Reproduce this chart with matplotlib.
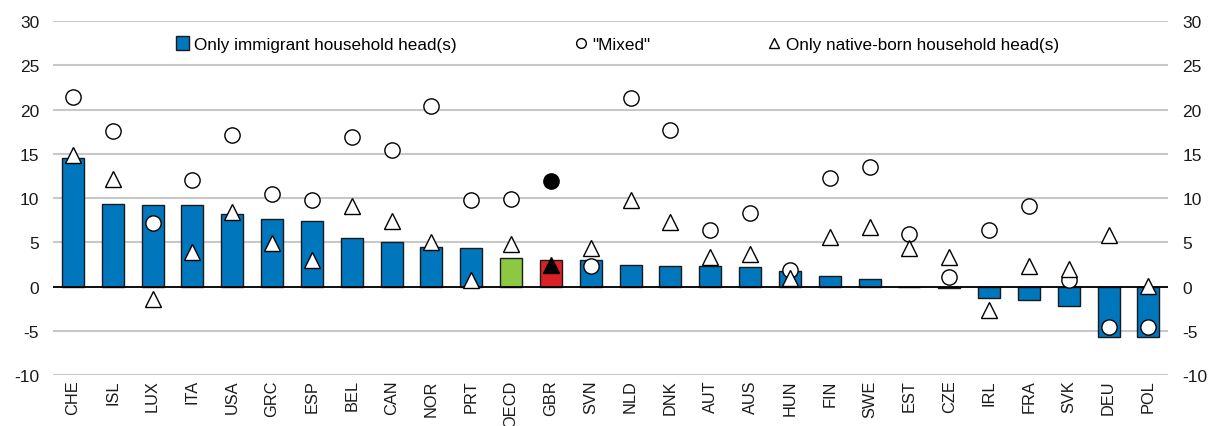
import matplotlib
matplotlib.use("Agg")
import matplotlib.pyplot as plt
import numpy as np
from matplotlib.lines import Line2D
from matplotlib.patches import Patch

plt.rcParams['font.family'] = ['Liberation Sans', 'DejaVu Sans']
plt.rcParams['axes.unicode_minus'] = False

countries = ["CHE", "ISL", "LUX", "ITA", "USA", "GRC", "ESP", "BEL", "CAN", "NOR",
             "PRT", "OECD", "GBR", "SVN", "NLD", "DNK", "AUT", "AUS", "HUN", "FIN",
             "SWE", "EST", "CZE", "IRL", "FRA", "SVK", "DEU", "POL"]
immigrant = [14.5, 9.3, 9.2, 9.2, 8.2, 7.7, 7.4, 5.5, 5.1, 4.5,
             4.4, 3.2, 3.0, 3.0, 2.4, 2.3, 2.3, 2.25, 1.8, 1.25,
             0.85, -0.05, -0.15, -1.3, -1.5, -2.2, -5.7, -5.7]
mixed = [21.4, 17.6, 7.2, 12.1, 17.1, 10.5, 9.8, 16.9, 15.5, 20.4,
         9.8, 9.95, 11.9, 2.3, 21.3, 17.7, 6.4, 8.3, 1.9, 12.25,
         13.5, 5.9, 1.05, 6.45, 9.1, 0.7, -4.55, -4.6]
native = [14.9, 12.2, -1.35, 3.9, 8.4, 4.9, 3.0, 9.1, 7.4, 5.0,
          0.8, 4.8, 2.5, 4.35, 9.8, 7.3, 3.3, 3.7, 1.0, 5.6,
          6.7, 4.4, 3.35, -2.6, 2.3, 2.0, 5.8, 0.1]
yticks = [-10, -5, 0, 5, 10, 15, 20, 25, 30]
legend_labels = ["Only immigrant household head(s)", '"Mixed"', "Only native-born household head(s)"]

BLUE = "#0077BD"
GREEN = "#8CC841"
RED = "#DA2128"

fig = plt.figure(figsize=(12.13, 4.27), dpi=100)
ax = fig.add_axes([0.0437, 0.119, 0.9195, 0.829])

x = np.arange(len(countries))
bar_colors = [GREEN if c == "OECD" else RED if c == "GBR" else BLUE for c in countries]
ax.bar(x, immigrant, width=0.55, color=bar_colors, edgecolor="#1a1a1a", linewidth=1.0, zorder=3)

mfc_c = ["black" if c == "GBR" else "white" for c in countries]
for xi, yi, fc in zip(x, mixed, mfc_c):
    ax.plot(xi, yi, marker="o", markersize=11, markerfacecolor=fc, markeredgecolor="black",
            markeredgewidth=1.0, linestyle="none", zorder=4)
for xi, yi, fc in zip(x, native, mfc_c):
    ax.plot(xi, yi, marker="^", markersize=12, markerfacecolor=fc, markeredgecolor="black",
            markeredgewidth=1.0, linestyle="none", zorder=5)

ax.axhline(0, color="black", linewidth=1.3, zorder=3.5)
ax.set_ylim(-10, 30)
ax.set_xlim(-0.5, len(countries) - 0.5)
ax.set_yticks(yticks)
ax.yaxis.grid(True, color="#c8c8c8", linewidth=1.5, zorder=0)
ax.set_axisbelow(True)
for s in ax.spines.values():
    s.set_visible(False)
ax.set_xticks(x)
ax.set_xticklabels(countries, rotation=90)
ax.tick_params(axis="both", length=0, labelsize=12.5, colors="#1a1a1a")
ax.tick_params(axis="x", pad=3, labelsize=11.8)
ax.tick_params(axis="y", pad=10)

ax2 = ax.twinx()
ax2.set_ylim(-10, 30)
ax2.set_yticks(yticks)
ax2.tick_params(axis="y", length=0, labelsize=12.5, pad=10, colors="#1a1a1a")
for s in ax2.spines.values():
    s.set_visible(False)

handles = [
    Patch(facecolor=BLUE, edgecolor="#1a1a1a", linewidth=1.0),
    Line2D([], [], marker="o", markersize=7, markerfacecolor="white", markeredgecolor="black", linestyle="none"),
    Line2D([], [], marker="^", markersize=7, markerfacecolor="white", markeredgecolor="black", linestyle="none"),
]
anchors = [0.110, 0.467, 0.640]
for h, lab, ax_x in zip(handles, legend_labels, anchors):
    leg = matplotlib.legend.Legend(ax2, [h], [lab], loc="center left", bbox_to_anchor=(ax_x, 0.935),
                                   frameon=False, fontsize=12.3, handlelength=0.8, handletextpad=0.3,
                                   handleheight=0.8, borderpad=0, borderaxespad=0)
    ax2.add_artist(leg)

fig.savefig("out.png", dpi=100)
